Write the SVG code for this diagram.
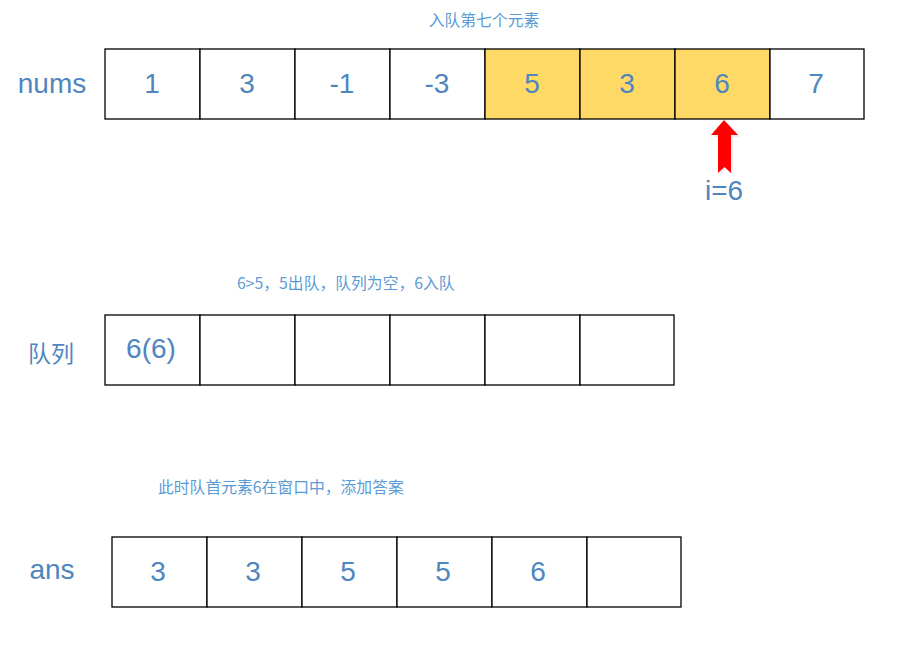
<svg xmlns="http://www.w3.org/2000/svg" width="914" height="645" viewBox="0 0 914 645">
<style>
.c{fill:#fff;stroke:#000;stroke-width:1.3}
.y{fill:#FFD966;stroke:#000;stroke-width:1.3}
.t{font-family:"Liberation Sans","Noto Sans CJK SC",sans-serif;font-size:28px;fill:#4F86BE;text-anchor:middle}
.l{font-family:"Noto Sans CJK SC","Liberation Sans",sans-serif;font-size:23px;fill:#4F86BE;text-anchor:middle}
.s{font-family:"Noto Sans CJK SC",sans-serif;font-size:15.8px;fill:#5B9BD5}
</style>
<rect width="914" height="645" fill="#fff"/>
<text class="s" x="484" y="26" text-anchor="middle">入队第七个元素</text>
<g id="nums">
<text class="t" x="52" y="93">nums</text>
<rect class="c" x="105" y="49" width="95" height="70"/>
<rect class="c" x="200" y="49" width="95" height="70"/>
<rect class="c" x="295" y="49" width="95" height="70"/>
<rect class="c" x="390" y="49" width="95" height="70"/>
<rect class="y" x="485" y="49" width="95" height="70"/>
<rect class="y" x="580" y="49" width="95" height="70"/>
<rect class="y" x="675" y="49" width="95" height="70"/>
<rect class="c" x="770" y="49" width="94" height="70"/>
<text class="t" x="152" y="93">1</text>
<text class="t" x="247" y="93">3</text>
<text class="t" x="342" y="93">-1</text>
<text class="t" x="437" y="93">-3</text>
<text class="t" x="532" y="93">5</text>
<text class="t" x="627" y="93">3</text>
<text class="t" x="722" y="93">6</text>
<text class="t" x="816" y="93">7</text>
</g>
<g id="pointer">
<polygon points="726,122 740,137 733,137 733,175 726,169 720,175 720,137 713,137" fill="#D9E2F0" opacity="0.6"/>
<polygon points="724,120 738,135 731,135 731,173 724.5,167 718,173 718,135 711,135" fill="#FF0000"/>
<text class="t" x="724" y="200">i=6</text>
</g>
<text class="s" x="237" y="289">6&gt;5，5出队，队列为空，6入队</text>
<g id="queue">
<text class="l" x="51" y="362">队列</text>
<rect class="c" x="105" y="315" width="95" height="70"/>
<rect class="c" x="200" y="315" width="95" height="70"/>
<rect class="c" x="295" y="315" width="95" height="70"/>
<rect class="c" x="390" y="315" width="95" height="70"/>
<rect class="c" x="485" y="315" width="95" height="70"/>
<rect class="c" x="580" y="315" width="94" height="70"/>
<text class="t" x="151" y="358">6(6)</text>
</g>
<text class="s" x="158" y="493">此时队首元素6在窗口中，添加答案</text>
<g id="ans">
<text class="t" x="52" y="579">ans</text>
<rect class="c" x="112" y="537" width="95" height="70"/>
<rect class="c" x="207" y="537" width="95" height="70"/>
<rect class="c" x="302" y="537" width="95" height="70"/>
<rect class="c" x="397" y="537" width="95" height="70"/>
<rect class="c" x="492" y="537" width="95" height="70"/>
<rect class="c" x="587" y="537" width="94" height="70"/>
<text class="t" x="158" y="581">3</text>
<text class="t" x="253" y="581">3</text>
<text class="t" x="348" y="581">5</text>
<text class="t" x="443" y="581">5</text>
<text class="t" x="538" y="581">6</text>
</g>
</svg>
